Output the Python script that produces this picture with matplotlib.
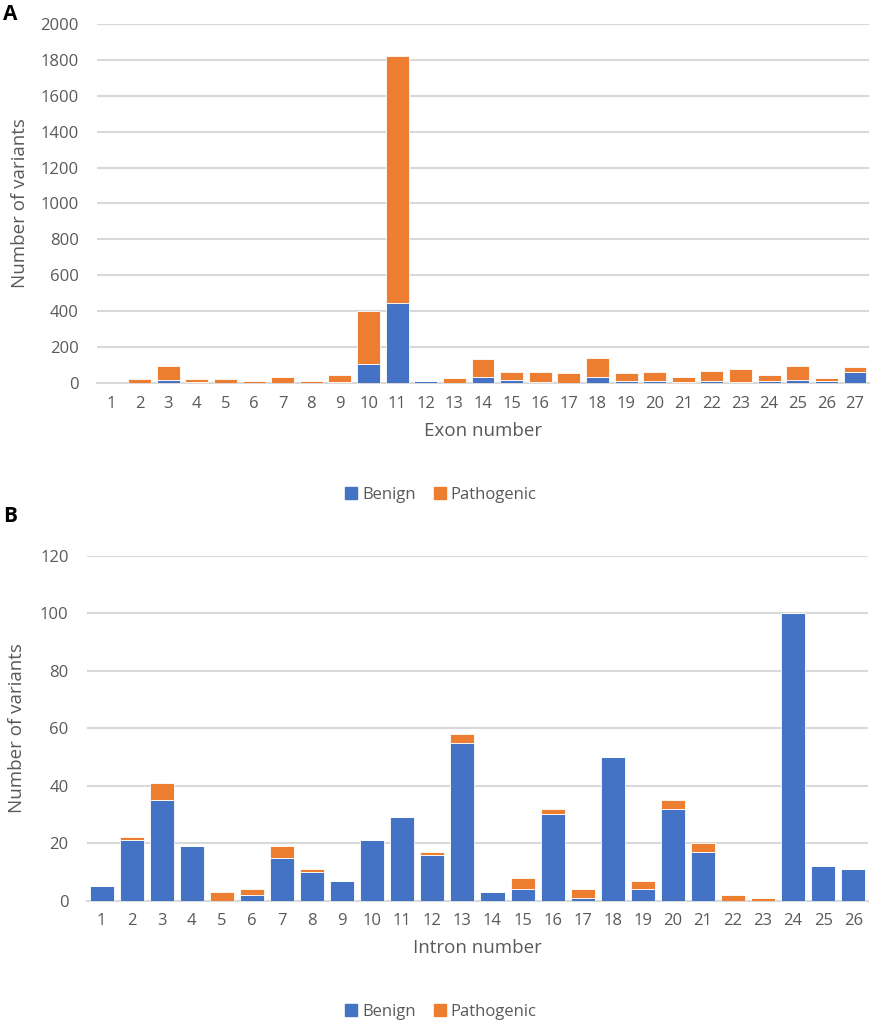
import numpy as np
import matplotlib
matplotlib.use("Agg")
import matplotlib.pyplot as plt
from matplotlib.patches import Patch

plt.rcParams['font.family'] = ['Open Sans', 'DejaVu Sans']

# Panel A: variants per exon
exons = [str(i) for i in range(1, 28)]
exon_benign = [0, 0, 19, 8, 0, 0, 0, 0, 5, 107, 444, 10, 0, 34, 17, 9, 0, 34, 11, 14, 9, 14, 9, 14, 19, 14, 60]
exon_total = [0, 22, 97, 22, 25, 11, 34, 11, 47, 404, 1820, 12, 28, 137, 65, 60, 56, 142, 56, 60, 34, 71, 82, 45, 95, 30, 88]

# Panel B: variants per intron
introns = [str(i) for i in range(1, 27)]
intron_benign = [5, 21, 35, 19, 0, 2, 15, 10, 7, 21, 29, 16, 55, 3, 4, 30, 1, 50, 4, 32, 17, 0, 0, 100, 12, 11]
intron_total = [5, 22, 41, 19, 3, 4, 19, 11, 7, 21, 29, 17, 58, 3, 8, 32, 4, 50, 7, 35, 20, 2, 1, 100, 12, 11]

BLUE = '#4472C4'
ORANGE = '#ED7D31'
GRID = '#D9D9D9'
TXT = '#595959'

fig = plt.figure(figsize=(8.72, 10.24), dpi=100)


def panel(rect, cats, benign, total, ymax, ystep, xlabel):
    ax = fig.add_axes(rect)
    benign = np.array(benign)
    path = np.array(total) - benign
    x = np.arange(len(cats))
    ax.bar(x, benign, width=0.8, color=BLUE, edgecolor='white', linewidth=0.6, zorder=3)
    ax.bar(x, path, bottom=benign, width=0.8, color=ORANGE, edgecolor='white', linewidth=0.6, zorder=3)
    ax.set_xlim(-0.5, len(cats) - 0.5)
    ax.set_ylim(0, ymax)
    ax.set_yticks(np.arange(0, ymax + 1, ystep))
    ax.set_xticks(x)
    ax.set_xticklabels(cats)
    ax.yaxis.grid(True, color=GRID, linewidth=1.5, zorder=0)
    ax.set_axisbelow(True)
    for s in ['top', 'right', 'left']:
        ax.spines[s].set_visible(False)
    ax.spines['bottom'].set_color(GRID)
    ax.spines['bottom'].set_linewidth(1.5)
    ax.tick_params(axis='x', length=0, pad=9, labelsize=12, labelcolor=TXT)
    ax.tick_params(axis='y', length=0, pad=13, labelsize=12, labelcolor=TXT)
    ax.set_xlabel(xlabel, fontsize=13.5, color=TXT, labelpad=7)
    ax.set_ylabel('Number of variants', fontsize=13.5, color=TXT)
    return ax


axA = panel([0.1109, 0.6257, 0.886, 0.3512], exons, exon_benign, exon_total, 2000, 200, 'Exon number')
axB = panel([0.0994, 0.1204, 0.8963, 0.3369], introns, intron_benign, intron_total, 120, 20, 'Intron number')
axA.yaxis.set_label_coords(-0.087, 0.5)
axB.yaxis.set_label_coords(-0.078, 0.5)

handles = [Patch(color=BLUE, label='Benign'), Patch(color=ORANGE, label='Pathogenic')]
for yc in [1 - 495 / 1024, 1 - 1012 / 1024]:
    fig.legend(handles=handles, loc='center', bbox_to_anchor=(441 / 872, yc), ncol=2,
               frameon=False, fontsize=12, labelcolor=TXT, handlelength=0.7, handleheight=0.7,
               handletextpad=0.3, columnspacing=1.1)

fig.text(3 / 872, 1 - 14 / 1024, 'A', fontsize=15, fontweight='bold', va='center', ha='left')
fig.text(3 / 872, 1 - 517 / 1024, 'B', fontsize=15, fontweight='bold', va='center', ha='left')

fig.savefig('out.png', dpi=100)
